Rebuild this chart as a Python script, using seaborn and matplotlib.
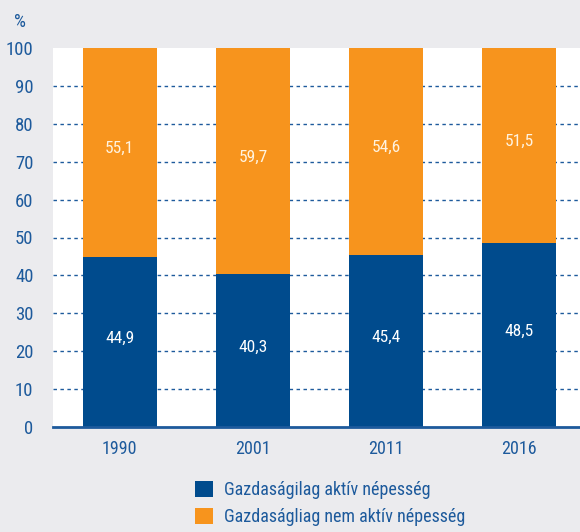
import matplotlib
matplotlib.use("Agg")
import matplotlib.pyplot as plt
from matplotlib.patches import Patch
from matplotlib.ticker import FixedLocator
import seaborn as sns
import pandas as pd
from matplotlib import font_manager

years = ["1990", "2001", "2011", "2016"]
active = [44.9, 40.3, 45.4, 48.5]
inactive = [55.1, 59.7, 54.6, 51.5]
series_names = ["Gazdaságilag aktív népesség", "Gazdaságliag nem aktív népesség"]
y_ticks = [0, 10, 20, 30, 40, 50, 60, 70, 80, 90, 100]

BLUE = "#004b8d"
ORANGE = "#f7941d"
TEXT = "#1d5a9c"
BG = "#ebebee"

sns.set_theme(style="white")
names = {f.name for f in font_manager.fontManager.ttflist}
fam = [f for f in ["Liberation Sans Narrow", "Roboto Condensed", "Open Sans Condensed", "Liberation Sans"] if f in names]
plt.rcParams["font.family"] = fam + ["DejaVu Sans"]

df = pd.DataFrame({"year": years, "active": active, "inactive": inactive})
df["total"] = df["active"] + df["inactive"]

fig = plt.figure(figsize=(5.8, 5.32), dpi=100, facecolor=BG)
ax = fig.add_axes([53 / 580, 1 - 427 / 532, 533 / 580, 379 / 532])
ax.set_facecolor("white")

sns.barplot(data=df, x="year", y="total", color=ORANGE, width=0.556, saturation=1, ax=ax, zorder=3)
sns.barplot(data=df, x="year", y="active", color=BLUE, width=0.556, saturation=1, ax=ax, zorder=3)
for p in ax.patches:
    p.set_edgecolor("none")

ax.set_xlim(-0.5, len(years) - 0.5)
ax.set_ylim(0, 100)
ax.set_yticks(y_ticks)
ax.set_xlabel("")
ax.set_ylabel("")

for y in y_ticks[1:-1]:
    ax.axhline(y, color=TEXT, lw=1.0, ls=(0, (2.5, 2.5)), zorder=1)

for s in ["top", "right", "left"]:
    ax.spines[s].set_visible(False)
ax.spines["bottom"].set_color(TEXT)
ax.spines["bottom"].set_linewidth(2)
ax.spines["bottom"].set_zorder(5)

ax.tick_params(axis="y", length=0, pad=14, labelsize=13.5, labelcolor=TEXT)
ax.tick_params(axis="x", which="major", length=0, pad=9, labelsize=13, labelcolor=TEXT)
ax.xaxis.set_minor_locator(FixedLocator([i - 0.5 for i in range(len(years) + 1)]))
ax.tick_params(axis="x", which="minor", length=10, width=2, color=TEXT, direction="out")

def fmt(v):
    return f"{v:.1f}".replace(".", ",")

for i, (a, n) in enumerate(zip(active, inactive)):
    ax.text(i, a / 2 + 1, fmt(a), ha="center", va="center", color="white", fontsize=12.5, zorder=6)
    ax.text(i, a + n / 2 + 1, fmt(n), ha="center", va="center", color="#fff3e0", fontsize=12.5, zorder=6)

fig.text(20 / 580, 1 - 22 / 532, "%", ha="center", va="center", color=TEXT, fontsize=13.5)

handles = [Patch(facecolor=BLUE, edgecolor="none"), Patch(facecolor=ORANGE, edgecolor="none")]
fig.legend(handles, series_names, loc="upper left", bbox_to_anchor=(188 / 580, 1 - 474 / 532),
           frameon=False, fontsize=13, labelcolor=TEXT, handlelength=1.0, handleheight=1.0,
           handletextpad=0.6, labelspacing=0.45, borderaxespad=0)

fig.savefig("out.png", dpi=100, facecolor=BG)
